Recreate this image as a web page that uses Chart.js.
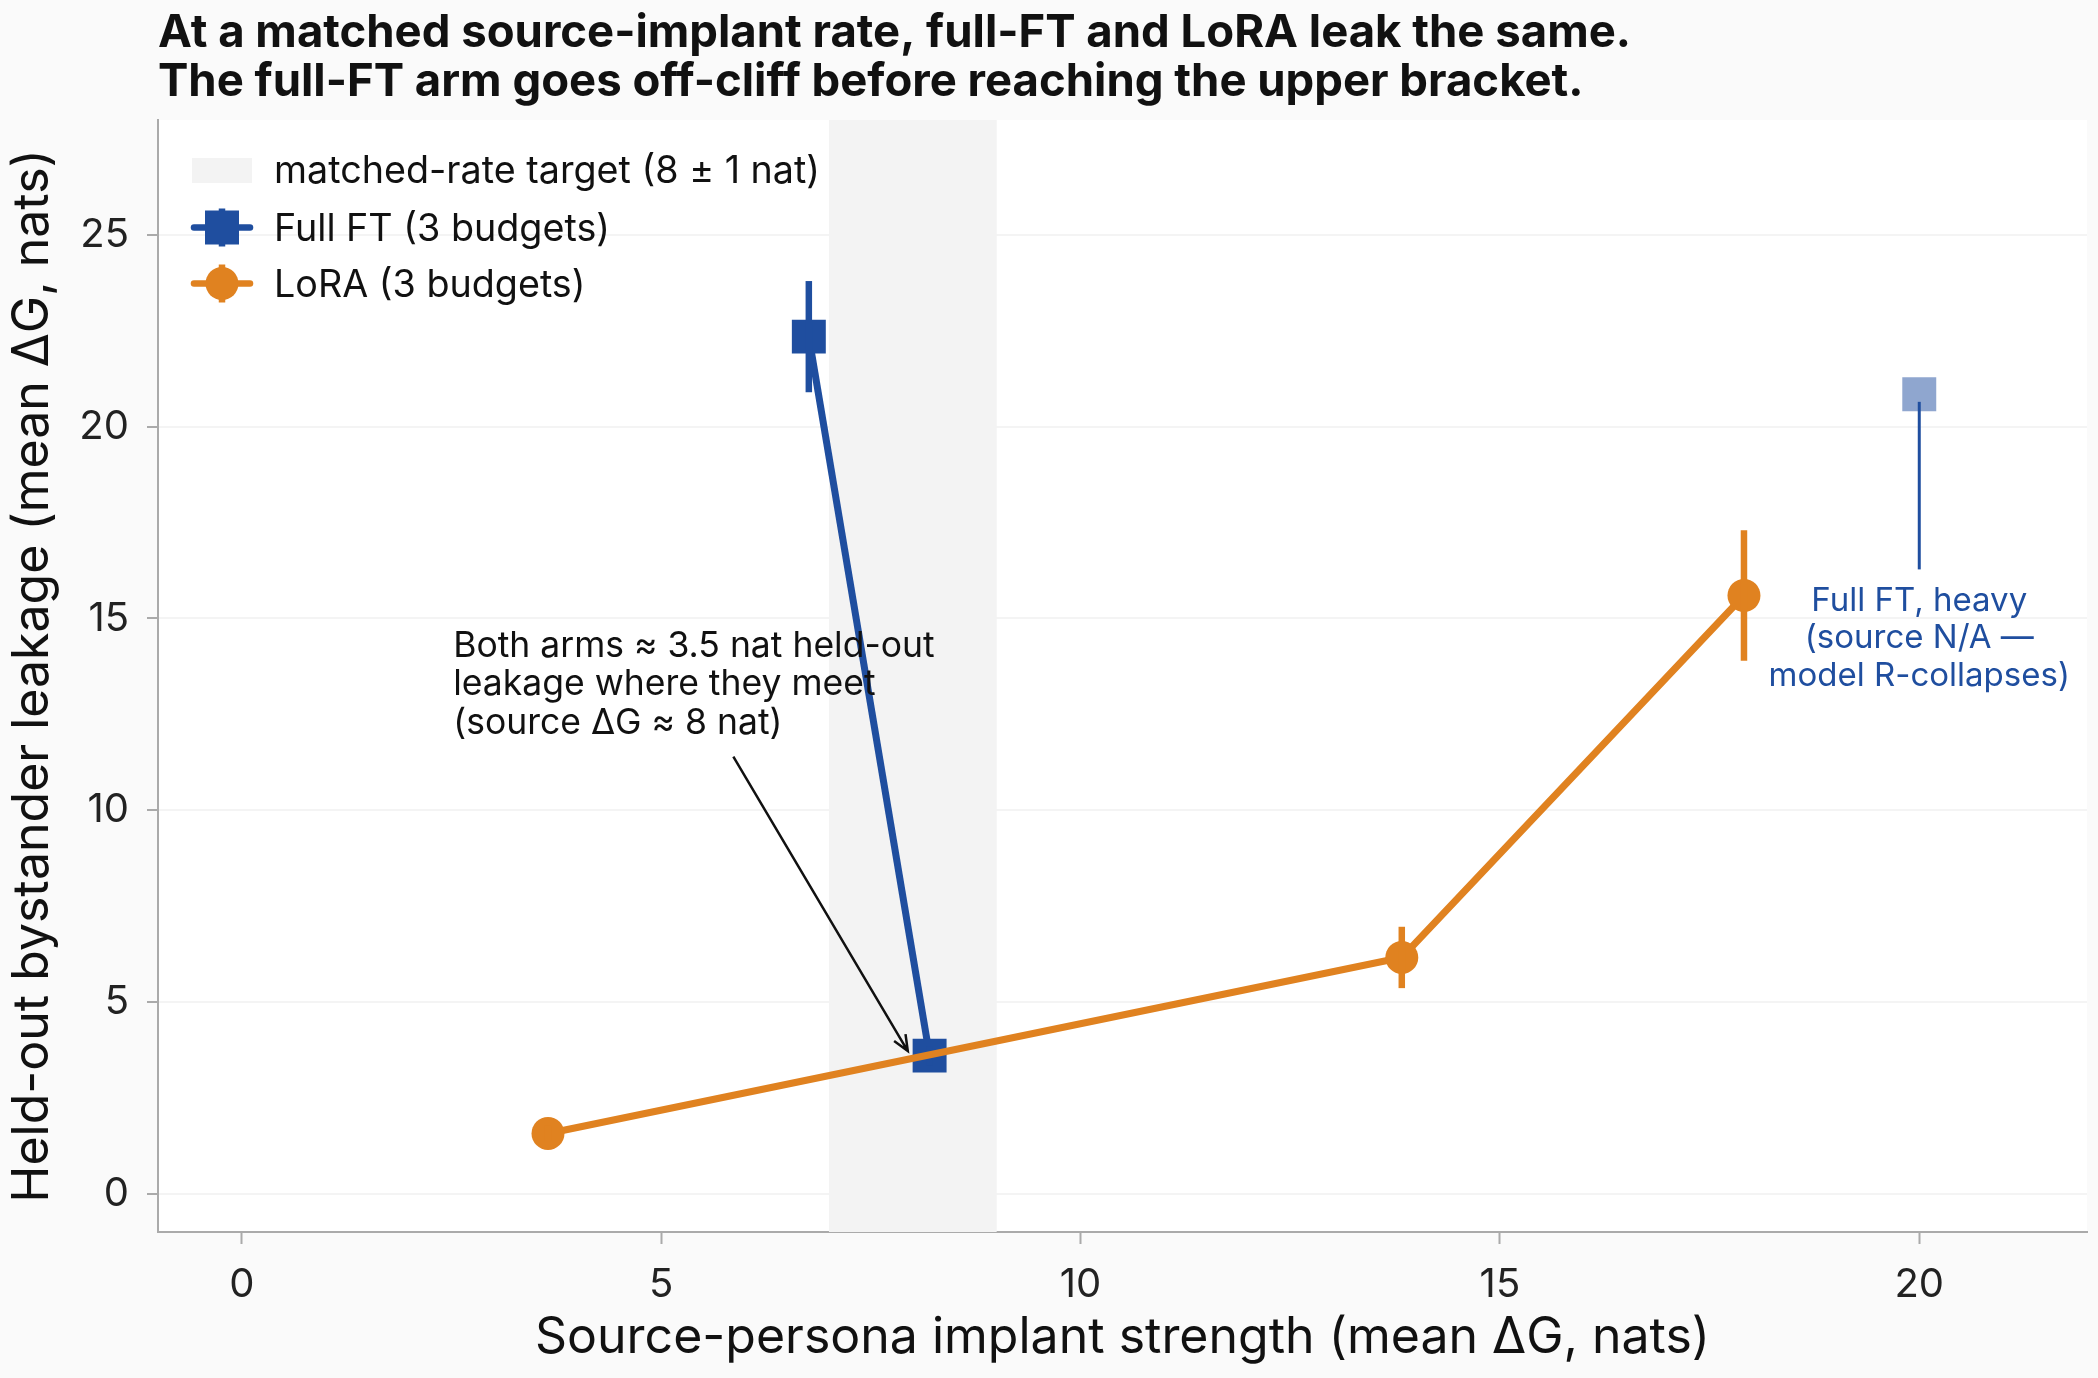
<!DOCTYPE html>
<html>
<head>
<meta charset="utf-8">
<script src="https://cdn.jsdelivr.net/npm/chart.js@4.4.1/dist/chart.umd.min.js"></script>
<style>
  html, body { margin: 0; padding: 0; background: #fafafa; }
  #wrap { width: 2098px; height: 1378px; }
</style>
</head>
<body>
<div id="wrap"><canvas id="chart" width="2098" height="1378"></canvas></div>
<script>
// matched-rate comparison: full FT vs LoRA leakage
const FONT = 'Inter, "Noto Sans", sans-serif';
const BLUE = '#1f4e9f';
const ORANGE = '#e08220';

const fullX = [6.76, 8.2];
const fullY = [22.35, 3.6];
const fullErr = [1.45, 0.25];
const loraX = [3.65, 13.83, 17.91];
const loraY = [1.57, 6.16, 15.6];
const loraErr = [0.2, 0.8, 1.7];
const heavyX = [20];
const heavyY = [20.85];
const targetBand = [7, 9];
const xTicks = [0, 5, 10, 15, 20];
const yTicks = [0, 5, 10, 15, 20, 25];

const titleLines = [
  'At a matched source-implant rate, full-FT and LoRA leak the same.',
  'The full-FT arm goes off-cliff before reaching the upper bracket.'
];
const legendLabels = ['matched-rate target (8 \u00b1 1 nat)', 'Full FT (3 budgets)', 'LoRA (3 budgets)'];
const meetNote = ['Both arms \u2248 3.5 nat held-out', 'leakage where they meet', '(source \u0394G \u2248 8 nat)'];
const heavyNote = ['Full FT, heavy', '(source N/A \u2014', 'model R-collapses)'];

const toPoints = (xs, ys) => xs.map((x, i) => ({ x, y: ys[i] }));

const backdrop = {
  id: 'backdrop',
  beforeDraw(chart) {
    const { ctx, chartArea: a } = chart;
    ctx.save();
    ctx.fillStyle = '#fafafa';
    ctx.fillRect(0, 0, chart.width, chart.height);
    ctx.fillStyle = '#ffffff';
    ctx.fillRect(a.left, a.top, a.right - a.left, a.bottom - a.top);
    ctx.restore();
  },
  beforeDatasetsDraw(chart) {
    const { ctx, chartArea: a, scales: { x } } = chart;
    ctx.save();
    ctx.fillStyle = '#f3f3f3';
    const x0 = x.getPixelForValue(targetBand[0]);
    const x1 = x.getPixelForValue(targetBand[1]);
    ctx.fillRect(x0, a.top, x1 - x0, a.bottom - a.top);
    ctx.restore();
  }
};

const errorBars = {
  id: 'errorBars',
  afterDatasetDraw(chart, args) {
    const ds = chart.data.datasets[args.index];
    if (!ds.err) return;
    const { ctx, scales: { x, y } } = chart;
    ctx.save();
    ctx.strokeStyle = ds.borderColor;
    ctx.lineWidth = 6.5;
    ds.data.forEach((p, i) => {
      const px = x.getPixelForValue(p.x);
      ctx.beginPath();
      ctx.moveTo(px, y.getPixelForValue(p.y - ds.err[i]));
      ctx.lineTo(px, y.getPixelForValue(p.y + ds.err[i]));
      ctx.stroke();
    });
    ctx.restore();
  }
};

function arrow(ctx, x0, y0, x1, y1) {
  const ang = Math.atan2(y1 - y0, x1 - x0);
  const h = 17;
  ctx.beginPath();
  ctx.moveTo(x0, y0);
  ctx.lineTo(x1, y1);
  ctx.moveTo(x1 - h * Math.cos(ang - 0.4), y1 - h * Math.sin(ang - 0.4));
  ctx.lineTo(x1, y1);
  ctx.lineTo(x1 - h * Math.cos(ang + 0.4), y1 - h * Math.sin(ang + 0.4));
  ctx.stroke();
}

const notes = {
  id: 'notes',
  afterDatasetsDraw(chart) {
    const { ctx, scales: { x, y } } = chart;
    ctx.save();
    // meeting-point note + arrow
    ctx.font = '35.5px ' + FONT;
    ctx.fillStyle = '#111';
    ctx.textAlign = 'left';
    ctx.textBaseline = 'alphabetic';
    meetNote.forEach((t, i) => ctx.fillText(t, x.getPixelForValue(2.52), y.getPixelForValue(14.0) + i * 38.5));
    ctx.strokeStyle = '#111';
    ctx.lineWidth = 2.5;
    arrow(ctx, x.getPixelForValue(5.86), y.getPixelForValue(11.4), x.getPixelForValue(7.94), y.getPixelForValue(3.72));
    // heavy full-FT marker note
    ctx.strokeStyle = BLUE;
    ctx.lineWidth = 3;
    ctx.beginPath();
    ctx.moveTo(x.getPixelForValue(heavyX[0]), y.getPixelForValue(heavyY[0] - 0.2));
    ctx.lineTo(x.getPixelForValue(heavyX[0]), y.getPixelForValue(16.28));
    ctx.stroke();
    ctx.font = '33px ' + FONT;
    ctx.fillStyle = BLUE;
    ctx.textAlign = 'center';
    heavyNote.forEach((t, i) => ctx.fillText(t, x.getPixelForValue(heavyX[0]), y.getPixelForValue(15.2) + i * 37.5));
    ctx.restore();
  },
  afterDraw(chart) {
    const { ctx } = chart;
    ctx.save();
    // title
    ctx.font = 'bold 45.5px ' + FONT;
    ctx.fillStyle = '#111';
    ctx.textAlign = 'left';
    ctx.textBaseline = 'alphabetic';
    ctx.fillText(titleLines[0], 158, 47);
    ctx.fillText(titleLines[1], 158, 96);
    // legend
    ctx.font = '37.7px ' + FONT;
    ctx.fillStyle = '#f3f3f3';
    ctx.fillRect(192, 158, 60, 25);
    ctx.fillStyle = '#111';
    ctx.fillText(legendLabels[0], 274, 183);
    ctx.fillText(legendLabels[1], 274, 241);
    ctx.fillText(legendLabels[2], 274, 297);
    const rows = [[227.5, BLUE, 'rect'], [283.5, ORANGE, 'circle']];
    rows.forEach(([cy, col, shape]) => {
      ctx.strokeStyle = col;
      ctx.fillStyle = col;
      ctx.lineCap = 'round';
      ctx.lineWidth = 6.5;
      ctx.beginPath();
      ctx.moveTo(194, cy); ctx.lineTo(250, cy);
      ctx.stroke();
      ctx.lineCap = 'butt';
      ctx.beginPath();
      ctx.moveTo(222, cy - 19); ctx.lineTo(222, cy + 19);
      ctx.stroke();
      if (shape === 'rect') ctx.fillRect(205, cy - 17, 34, 34);
      else { ctx.beginPath(); ctx.arc(222, cy, 16.5, 0, Math.PI * 2); ctx.fill(); }
    });
    ctx.restore();
  }
};

new Chart(document.getElementById('chart'), {
  type: 'line',
  data: {
    datasets: [
      {
        label: legendLabels[1], data: toPoints(fullX, fullY), err: fullErr,
        borderColor: BLUE, backgroundColor: BLUE, borderWidth: 7,
        pointStyle: 'rect', pointRadius: 24, pointHoverRadius: 24, pointBorderWidth: 0, order: 1
      },
      {
        label: legendLabels[2], data: toPoints(loraX, loraY), err: loraErr,
        borderColor: ORANGE, backgroundColor: ORANGE, borderWidth: 7,
        pointStyle: 'circle', pointRadius: 16.5, pointHoverRadius: 16.5, pointBorderWidth: 0, order: 0
      },
      {
        label: 'Full FT heavy', data: toPoints(heavyX, heavyY), showLine: false,
        borderColor: 'rgba(31,78,159,0.5)', backgroundColor: 'rgba(31,78,159,0.5)',
        pointStyle: 'rect', pointRadius: 24, pointHoverRadius: 24, pointBorderWidth: 0, order: 2
      }
    ]
  },
  options: {
    responsive: false,
    animation: false,
    layout: { autoPadding: false, padding: { top: 120, right: 11, left: 0, bottom: 0 } },
    scales: {
      x: {
        type: 'linear', min: -1, max: 22,
        afterBuildTicks: s => { s.ticks = xTicks.map(v => ({ value: v })); },
        afterFit: s => { s.height = 146; s.paddingLeft = 0; s.paddingRight = 0; },
        border: { color: '#aaaaaa', width: 2 },
        grid: { drawOnChartArea: false, tickLength: 12, tickColor: '#aaaaaa', tickWidth: 2 },
        ticks: { padding: 17, color: '#222', font: { family: FONT, size: 40 }, maxRotation: 0 },
        title: {
          display: true, text: 'Source-persona implant strength (mean \u0394G, nats)',
          color: '#111', font: { family: FONT, size: 50 }, padding: { top: 0, bottom: 10 }
        }
      },
      y: {
        type: 'linear', min: -1, max: 28,
        afterBuildTicks: s => { s.ticks = yTicks.map(v => ({ value: v })); },
        afterFit: s => { s.width = 158; },
        border: { color: '#aaaaaa', width: 2 },
        grid: { color: '#f4f4f4', lineWidth: 2, tickLength: 11, tickColor: '#aaaaaa', tickWidth: 2 },
        ticks: { padding: 18, color: '#222', font: { family: FONT, size: 40 } },
        title: {
          display: true, text: 'Held-out bystander leakage (mean \u0394G, nats)',
          color: '#111', font: { family: FONT, size: 50 }, padding: { top: 3, bottom: 0 }
        }
      }
    },
    plugins: { legend: { display: false }, tooltip: { enabled: false } }
  },
  plugins: [backdrop, errorBars, notes]
});
</script>
</body>
</html>
